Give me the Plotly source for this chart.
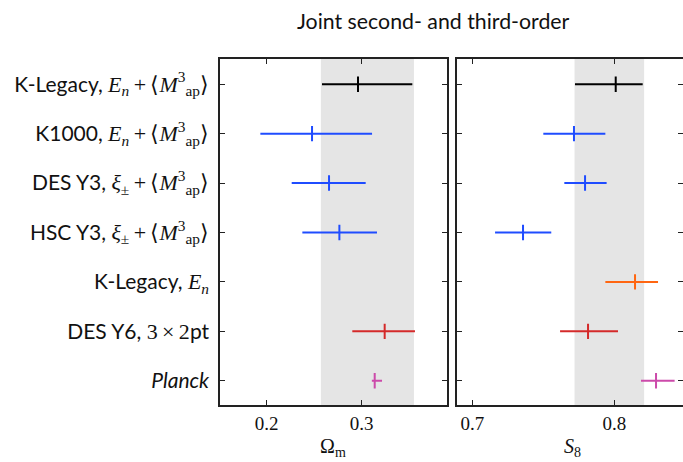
import plotly.graph_objects as go

# ---------------- data ----------------
M = '<span style="font-family:Liberation Serif;font-size:22px">'
E = '</span>'
SP = '\u2009'
MAP = '⟨<i>M</i><sup>3</sup><sub>ap</sub>⟩'
labels = [
    'K-Legacy, ' + M + '<i>E<sub>n</sub></i>' + SP + '+' + SP + MAP + E,
    'K1000, ' + M + '<i>E<sub>n</sub></i>' + SP + '+' + SP + MAP + E,
    'DES Y3, ' + M + '<i>ξ</i><sub>±</sub>' + SP + '+' + SP + MAP + E,
    'HSC Y3, ' + M + '<i>ξ</i><sub>±</sub>' + SP + '+' + SP + MAP + E,
    'K-Legacy, ' + M + '<i>E<sub>n</sub></i>' + E,
    'DES Y6, ' + M + '3' + SP + '×' + SP + '2' + E + 'pt',
    '<i>Planck</i>',
]
om_center = [0.2961, 0.2477, 0.2656, 0.2765, None, 0.3242, 0.3137]
om_low    = [0.2582, 0.1933, 0.2263, 0.2375, None, 0.2901, 0.3107]
om_high   = [0.3533, 0.3109, 0.3042, 0.3161, None, 0.3561, 0.3214]
s8_center = [0.8010, 0.7716, 0.7794, 0.7357, 0.8146, 0.7815, 0.8294]
s8_low    = [0.7723, 0.7500, 0.7648, 0.7160, 0.7937, 0.7618, 0.8188]
s8_high   = [0.8200, 0.7937, 0.7946, 0.7556, 0.8308, 0.8026, 0.8425]
om_band = [0.257, 0.355]
s8_band = [0.772, 0.821]
om_ticks = [0.2, 0.3]
s8_ticks = [0.7, 0.8]

colors = ['#000000', '#1f4cff', '#1f4cff', '#1f4cff', '#ff6611', '#d42a2a', '#cc4aaa']

SANS = 'Lato'
SERIF = 'Liberation Serif'

fig = go.Figure()
rows = list(range(len(labels)))

for i in rows:
    c = colors[i]
    if om_center[i] is not None:
        fig.add_trace(go.Scatter(
            x=[om_center[i]], y=[i], xaxis='x', yaxis='y', mode='markers',
            marker=dict(symbol='line-ns', size=11, line=dict(width=2, color=c), color=c),
            error_x=dict(type='data', symmetric=False,
                         array=[om_high[i] - om_center[i]],
                         arrayminus=[om_center[i] - om_low[i]],
                         color=c, thickness=2, width=0),
            showlegend=False, hoverinfo='skip'))
    fig.add_trace(go.Scatter(
        x=[s8_center[i]], y=[i], xaxis='x2', yaxis='y2', mode='markers',
        marker=dict(symbol='line-ns', size=11, line=dict(width=2, color=c), color=c),
        error_x=dict(type='data', symmetric=False,
                     array=[s8_high[i] - s8_center[i]],
                     arrayminus=[s8_center[i] - s8_low[i]],
                     color=c, thickness=2, width=0),
        showlegend=False, hoverinfo='skip'))

# invisible trace for right-side tick axis of right panel
fig.add_trace(go.Scatter(x=[s8_center[0]], y=[0], xaxis='x2', yaxis='y3',
                         mode='markers', marker=dict(opacity=0), showlegend=False,
                         hoverinfo='skip'))

# bands
fig.add_shape(type='rect', xref='x', yref='y domain', x0=om_band[0], x1=om_band[1],
              y0=0, y1=1, fillcolor='#e5e5e5', line=dict(width=0), layer='below')
fig.add_shape(type='rect', xref='x2', yref='y2 domain', x0=s8_band[0], x1=s8_band[1],
              y0=0, y1=1, fillcolor='#e5e5e5', line=dict(width=0), layer='below')

W, H = 683, 462
ml, mr, mt, mb = 220, 0, 59, 57
pw = W - ml - mr
ph = H - mt - mb
d1 = (446.7 - ml) / pw
d2 = (457.3 - ml) / pw

yr = [len(labels) - 0.51, -0.51]
axis_common = dict(ticks='inside', ticklen=5, tickwidth=1.2, tickcolor='#222',
                   showgrid=False, zeroline=False, linecolor='#222', linewidth=1.5,
                   automargin=False)

fig.update_layout(
    width=W, height=H,
    margin=dict(l=ml, r=mr, t=mt, b=mb, autoexpand=False),
    paper_bgcolor='white', plot_bgcolor='rgba(0,0,0,0)',
    xaxis=dict(domain=[0, d1], range=[0.1508, 0.3895], tickvals=om_ticks,
               ticktext=[str(v) for v in om_ticks], showline=True, mirror='ticks',
               tickfont=dict(family=SERIF, size=19, color='#111'),
               anchor='y', **axis_common),
    yaxis=dict(domain=[0, 1], range=yr, tickvals=rows, ticktext=labels,
               showline=True, mirror='ticks', anchor='x', ticklabelstandoff=5,
               tickfont=dict(family=SANS, size=21, color='#111'), **axis_common),
    xaxis2=dict(domain=[d2, 1], range=[0.6894, 0.8484], tickvals=s8_ticks,
                ticktext=[str(v) for v in s8_ticks], showline=True, mirror='ticks',
                tickfont=dict(family=SERIF, size=19, color='#111'),
                anchor='y2', **axis_common),
    yaxis2=dict(domain=[0, 1], range=yr, tickvals=rows, showticklabels=False,
                showline=True, mirror=False, anchor='x2', **axis_common),
    yaxis3=dict(overlaying='y2', side='right', anchor='x2', range=yr, tickvals=rows,
                showticklabels=False, showline=False, ticks='inside', ticklen=5,
                tickwidth=1.2, tickcolor='#222', showgrid=False, zeroline=False,
                automargin=False),
    annotations=[
        dict(text='Joint second- and third-order', xref='paper', yref='paper',
             x=(433 - ml) / pw, y=1 + (59 - 21) / ph,
             xanchor='center', yanchor='middle', showarrow=False,
             font=dict(family=SANS, size=21.3, color='#111')),
        dict(text='Ω<sub>m</sub>', xref='paper', yref='paper',
             x=(333 - ml) / pw, y=-(448 - 405.3) / ph,
             xanchor='center', yanchor='middle', showarrow=False,
             font=dict(family=SERIF, size=20, color='#111')),
        dict(text='<i>S</i><sub>8</sub>', xref='paper', yref='paper',
             x=(572 - ml) / pw, y=-(448 - 405.3) / ph,
             xanchor='center', yanchor='middle', showarrow=False,
             font=dict(family=SERIF, size=20, color='#111')),
    ],
)

fig.write_html('out.html', config={'displayModeBar': False},
               post_script="document.body.style.margin='0';document.body.style.overflow='hidden';")
